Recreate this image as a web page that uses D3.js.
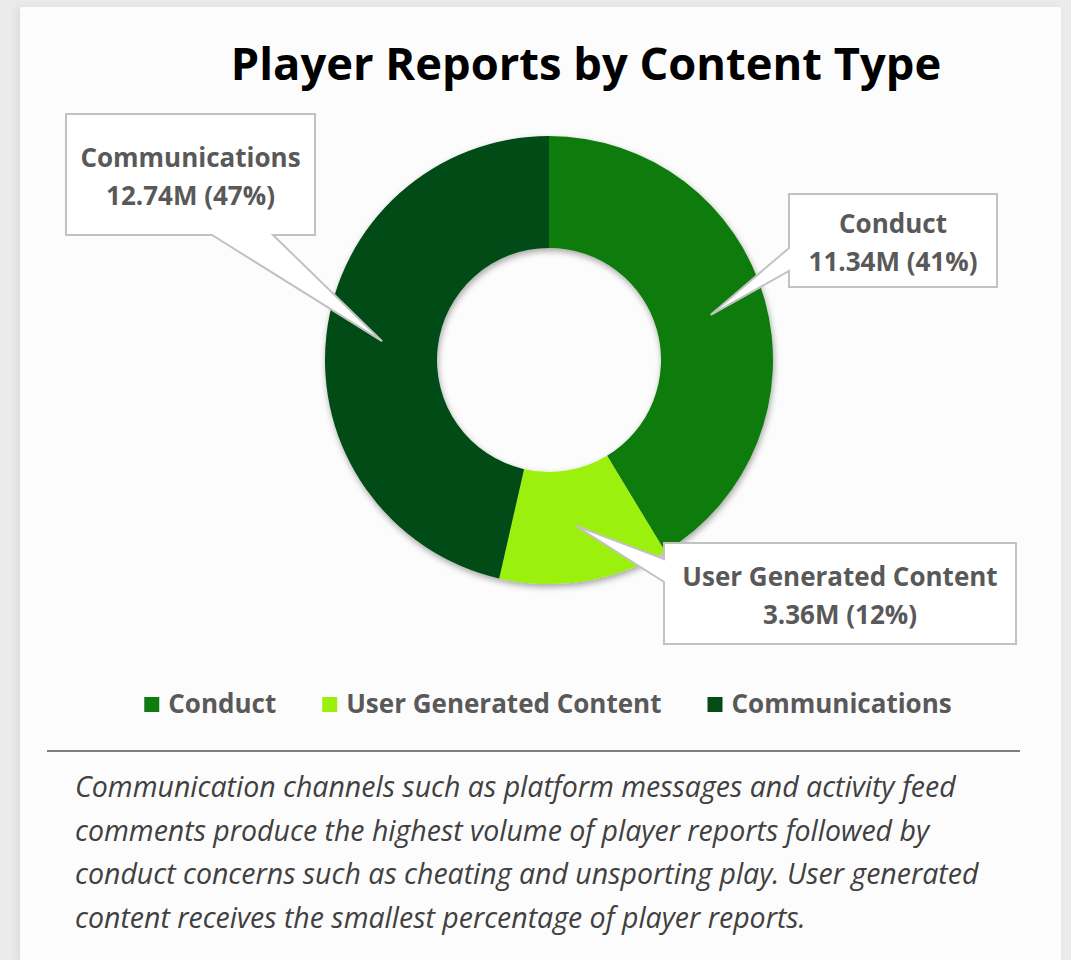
<!DOCTYPE html>
<html>
<head>
<meta charset="utf-8">
<script src="https://cdn.jsdelivr.net/npm/d3@7"></script>
<style>
  html, body { margin: 0; padding: 0; background: #ebebeb; }
  #card {
    position: absolute; left: 20px; top: 7px; width: 1041px; height: 960px;
    background: #fcfcfc; box-shadow: -4px 0 8px rgba(0,0,0,0.06);
  }
  svg { position: absolute; left: 0; top: 0; }
</style>
</head>
<body>
<div id="card"></div>
<div id="chart"></div>
<script>
var categories = ['Conduct', 'User Generated Content', 'Communications']
var reports = [11.34, 3.36, 12.74] // millions
var percents = [41, 12, 47]
var colors = ['#107c10', '#9bf00b', '#054b16']

var title = 'Player Reports by Content Type'
var caption = [
  'Communication channels such as platform messages and activity feed',
  'comments produce the highest volume of player reports followed by',
  'conduct concerns such as cheating and unsporting play. User generated',
  'content receives the smallest percentage of player reports.'
]

// callout boxes: [x, y, w, h], side the pointer comes out of, and where on that side
var callouts = {
  'Communications': { box: [66, 114, 249, 121], side: 'bottom', base: [212, 273] },
  'Conduct': { box: [789, 194, 208, 93], side: 'left', base: [248, 271] },
  'User Generated Content': { box: [664, 543, 352, 101], side: 'left', base: [559, 582] }
}

var width = 1071
var height = 960
var cx = 549
var cy = 360
var outerR = 224
var innerR = 112
var font = "'Open Sans', 'Noto Sans', sans-serif"

var svg = d3
  .select('#chart')
  .append('svg')
  .attr('width', width)
  .attr('height', height)

var defs = svg.append('defs')
var shadow = defs.append('filter').attr('id', 'shadow')
  .attr('x', '-20%').attr('y', '-20%').attr('width', '140%').attr('height', '140%')
shadow.append('feDropShadow')
  .attr('dx', 1).attr('dy', 3).attr('stdDeviation', 3)
  .attr('flood-color', '#000').attr('flood-opacity', 0.35)

// title
svg.append('text')
  .attr('x', 586)
  .attr('y', 80)
  .attr('text-anchor', 'middle')
  .attr('font-family', font)
  .attr('font-weight', 700)
  .attr('font-size', 45.3)
  .attr('fill', '#000')
  .text(title)

var pie = d3.pie().sort(null).value(d => d.value)
var arc = d3.arc().innerRadius(innerR).outerRadius(outerR)

var rows = categories.map((c, i) => ({ name: c, value: reports[i], pct: percents[i], color: colors[i] }))
var arcs = pie(rows)

var donut = svg.append('g')
  .attr('transform', `translate(${cx},${cy})`)
  .attr('filter', 'url(#shadow)')

donut.selectAll('path')
  .data(arcs)
  .enter()
  .append('path')
  .attr('d', arc)
  .attr('fill', d => d.data.color)

// callouts
function calloutPath(c, tip) {
  var [x, y, w, h] = c.box
  var b = c.base
  if (c.side === 'bottom') {
    return `M${x},${y}H${x + w}V${y + h}H${b[1]}L${tip[0]},${tip[1]}L${b[0]},${y + h}H${x}Z`
  }
  return `M${x},${y}H${x + w}V${y + h}H${x}V${b[1]}L${tip[0]},${tip[1]}L${x},${b[0]}Z`
}

var labels = svg.append('g')
arcs.forEach(function(d) {
  var c = callouts[d.data.name]
  var cen = arc.centroid(d)
  var tip = [cx + cen[0], cy + cen[1]]
  var g = labels.append('g')
  g.append('path')
    .attr('d', calloutPath(c, tip))
    .attr('fill', '#fff')
    .attr('stroke', '#c2c2c2')
    .attr('stroke-width', 2)
    .attr('stroke-linejoin', 'miter')
  var mx = c.box[0] + c.box[2] / 2
  var my = c.box[1] + c.box[3] / 2
  var t = g.append('text')
    .attr('text-anchor', 'middle')
    .attr('font-family', font)
    .attr('font-weight', 700)
    .attr('font-size', 26)
    .attr('fill', '#595959')
  t.append('tspan').attr('x', mx).attr('y', my - 8).text(d.data.name)
  t.append('tspan').attr('x', mx).attr('y', my + 30)
    .text(d3.format('.2f')(d.data.value) + 'M (' + d.data.pct + '%)')
})

// legend
var legend = svg.append('g')
var items = legend.selectAll('g')
  .data(rows)
  .enter()
  .append('g')
items.append('rect')
  .attr('width', 15).attr('height', 15)
  .attr('y', 697)
  .attr('fill', d => d.color)
items.append('text')
  .attr('y', 713)
  .attr('font-family', font)
  .attr('font-weight', 700)
  .attr('font-size', 26)
  .attr('fill', '#595959')
  .text(d => d.name)

var xs = []
var total = 0
items.each(function(d, i) {
  var w = d3.select(this).select('text').node().getComputedTextLength()
  xs.push(total)
  total += 24 + w + (i < rows.length - 1 ? 46 : 0)
})
var start = 548 - total / 2
items.each(function(d, i) {
  var g = d3.select(this)
  g.select('rect').attr('x', start + xs[i])
  g.select('text').attr('x', start + xs[i] + 24)
})

// separator
svg.append('line')
  .attr('x1', 47).attr('x2', 1020)
  .attr('y1', 751).attr('y2', 751)
  .attr('stroke', '#555')
  .attr('stroke-width', 1.5)

// caption
svg.append('g')
  .selectAll('text')
  .data(caption)
  .enter()
  .append('text')
  .attr('x', 75)
  .attr('y', (d, i) => 797 + i * 43.5)
  .attr('font-family', font)
  .attr('font-style', 'italic')
  .attr('font-size', 28.5)
  .attr('fill', '#404040')
  .text(d => d)
</script>
</body>
</html>
